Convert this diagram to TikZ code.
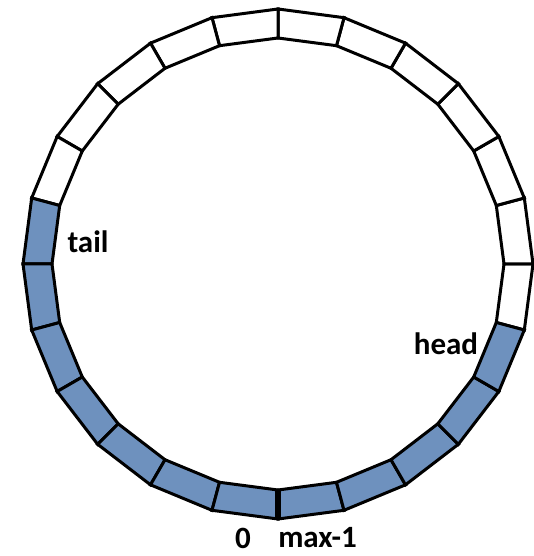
\documentclass[tikz,border=0pt]{standalone}
\usepackage{fontspec}
\setmainfont{Carlito}
\usetikzlibrary{positioning}
\usepackage{xcolor}
\definecolor{slot}{HTML}{6E91BE}
\tikzset{
  emptycell/.style={draw=black,line width=3pt,fill=white},
  fullcell/.style={emptycell,fill=slot},
  tag/.style={font=\bfseries\fontsize{31}{31}\selectfont,inner sep=0pt}
}
\begin{document}
\begin{tikzpicture}[x=1pt,y=1pt]
  \useasboundingbox (0,0) rectangle (533,556);
  \begin{scope}[shift={(278,292)}]
    % free slots
    \foreach \a in {-15,0,...,150}
      \draw[emptycell] (\a:255) -- (\a+15:255) -- (\a+15:226) -- (\a:226) -- cycle;
    % used slots, tail to head
    \foreach \a in {165,180,...,330}
      \draw[fullcell] (\a:255) -- (\a+15:255) -- (\a+15:226) -- (\a:226) -- cycle;
    \draw[line width=6pt] (270:225) -- (270:256);
  \end{scope}
  \node[tag] (tail) at (88,314) {tail};
  \node[tag] (head) at (446,212) {head};
  \node[tag] (zero) at (243,18) {0};
  \node[tag,right=27pt of zero] (last) {max-1};
\end{tikzpicture}
\end{document}
